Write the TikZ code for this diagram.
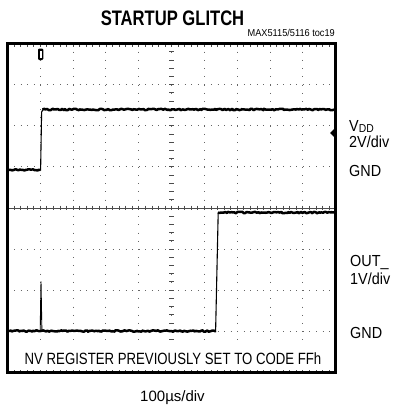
\documentclass[tikz,border=0pt]{standalone}
\usepackage{fontspec}
\setmainfont{Liberation Sans}
\newfontfamily\titlefont[FakeStretch=0.79]{Liberation Sans}
\newfontfamily\notefont[FakeStretch=0.81]{Liberation Sans}
\newfontfamily\labelfont[FakeStretch=0.9]{Liberation Sans}
\newfontfamily\smallfont[FakeStretch=0.92]{Liberation Sans}
\usetikzlibrary{decorations.pathmorphing}
\tikzset{
  griddot/.style={draw=black!60, line width=1pt},
  centerline/.style={draw=black!70, line width=0.8pt},
  tick/.style={draw=black!70, line width=0.8pt},
  trace/.style={draw=black, line width=2.5pt, line join=round, decorate,
    decoration={random steps, segment length=1.5pt, amplitude=0.75pt}},
  edgeline/.style={draw=black, line width=1.1pt},
  frameline/.style={draw=black, line width=3.3pt},
  lbl/.style={inner sep=0pt, anchor=base west, font=\labelfont\fontsize{16}{16}\selectfont},
}
\begin{document}
\begin{tikzpicture}[x=1pt,y=-1pt]
\useasboundingbox (0,0) rectangle (393,407);
\fill[white] (0,0) rectangle (393,407);
% grid dots
\foreach \i in {1,...,9} {
  \pgfmathsetmacro\gx{7.5+\i*32.82}
  \draw[griddot, dash pattern=on 1pt off 7.22pt] (\gx,43.5) -- (\gx,372.3);
}
\foreach \j in {1,2,3,5,6,7} {
  \pgfmathsetmacro\gy{43.5+\j*41.1}
  \draw[griddot, dash pattern=on 1pt off 5.564pt] (7.5,\gy) -- (335.7,\gy);
}
% center lines with ticks
\draw[centerline] (7.5,207.9) -- (335.7,207.9);
\foreach \i in {1,...,49} {
  \pgfmathsetmacro\tx{7.5+\i*6.564}
  \draw[tick] (\tx,205.6) -- (\tx,210.2);
}
\foreach \j in {1,...,39} {
  \pgfmathsetmacro\ty{43.5+\j*8.22}
  \draw[tick] (169.3,\ty) -- (173.9,\ty);
}
% frame ticks top and bottom
\foreach \i in {1,...,49} {
  \pgfmathsetmacro\tx{7.5+\i*6.564}
  \draw[tick] (\tx,43.5) -- (\tx,47.2);
}
% white box behind note
\fill[white] (9.2,345) rectangle (334,368.5);
\foreach \i in {1,...,49} {
  \pgfmathsetmacro\tx{7.5+\i*6.564}
  \draw[tick] (\tx,372.3) -- (\tx,369.8);
}
% traces
\pgfmathsetseed{7}
\draw[trace] (9,170) -- (40.6,170);
\draw[edgeline] (40.6,170.5) -- (41.6,112) -- (43,109.5);
\draw[trace] (42.5,109.5) -- (334,109.5);
\draw[trace] (9,331) -- (216,331);
\draw[edgeline] (215.6,331.5) -- (218.2,212.5);
\draw[trace] (218,212.5) -- (334,212.5);
\draw[line width=0.9pt] (40.2,331) -- (41,281.5) -- (41.9,331);
% markers
\fill[black, rounded corners=1.2pt] (38,48.5) rectangle (43.4,60);
\fill[white] (39.9,50.5) rectangle (41.5,57.5);
\fill[black] (330,133) -- (334.5,128.5) -- (334.5,137.5) -- cycle;
% frame
\draw[frameline] (7.5,43.5) rectangle (335.7,372.3);
% texts
\node[inner sep=0pt, anchor=base, font=\titlefont\bfseries\fontsize{21}{21}\selectfont] (title) at (172.5,25) {STARTUP GLITCH};
\node[inner sep=0pt, anchor=base east, font=\smallfont\fontsize{10}{10}\selectfont] (toc) at (335,36) {MAX5115/5116 toc19};
\node[lbl] (vdd) at (349,131) {V\raisebox{-1.8pt}{\fontsize{11.5}{11.5}\selectfont DD}};
\node[lbl] (vdiv) at (349,147) {2V/div};
\node[lbl] (gnda) at (349,176) {GND};
\node[lbl] (out) at (350,266) {OUT\_};
\node[lbl] (odiv) at (350,284) {1V/div};
\node[lbl] (gndb) at (350,338) {GND};
\node[inner sep=0pt, anchor=base, font=\notefont\fontsize{16.3}{16.3}\selectfont] (note) at (173,364) {NV REGISTER PREVIOUSLY SET TO CODE FFh};
\node[inner sep=0pt, anchor=base, font=\fontsize{15}{15}\selectfont] (tdiv) at (172.5,401.5) {100µs/div};
\end{tikzpicture}
\end{document}
